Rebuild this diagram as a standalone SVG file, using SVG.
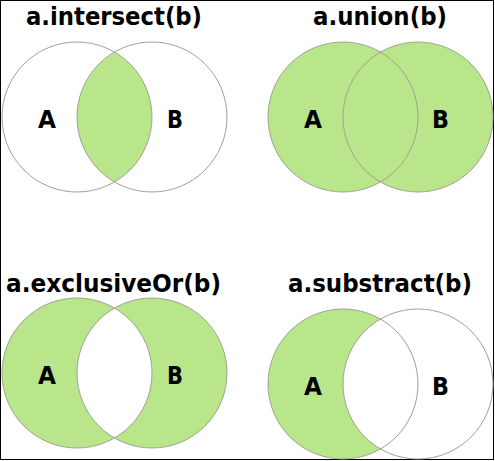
<svg xmlns="http://www.w3.org/2000/svg" width="495" height="461" viewBox="0 0 495 461">
<style>
.t{font-family:"DejaVu Sans","Liberation Sans",sans-serif;font-weight:bold;font-size:24px;fill:#000}
.l{font-family:"DejaVu Sans","Liberation Sans",sans-serif;font-weight:bold;font-size:25px;fill:#000}
.c{fill:none;stroke:#9da393;stroke-width:1}
.g{fill:#b9e68b}
.w{fill:#fff}
</style>
<defs>
<clipPath id="cB1"><circle cx="152" cy="117" r="75"/></clipPath>
<clipPath id="cB3"><circle cx="152" cy="373" r="75"/></clipPath>
<clipPath id="cB4"><circle cx="418" cy="384" r="75"/></clipPath>
</defs>
<rect x="0.5" y="0.5" width="493" height="459" fill="#fff" stroke="#000" stroke-width="1"/>
<g id="intersect">
<circle class="g" cx="77" cy="117" r="75" clip-path="url(#cB1)"/>
<circle class="c" cx="77" cy="117" r="75"/>
<circle class="c" cx="152" cy="117" r="75"/>
<text class="t" x="26" y="25" textLength="176" lengthAdjust="spacingAndGlyphs">a.intersect(b)</text>
<text class="l" x="38" y="128" textLength="18" lengthAdjust="spacingAndGlyphs">A</text>
<text class="l" x="167" y="128" textLength="16" lengthAdjust="spacingAndGlyphs">B</text>
</g>
<g id="union">
<circle class="g" cx="343" cy="117" r="75"/>
<circle class="g" cx="418" cy="117" r="75"/>
<circle class="c" cx="343" cy="117" r="75"/>
<circle class="c" cx="418" cy="117" r="75"/>
<text class="t" x="313" y="25" textLength="134" lengthAdjust="spacingAndGlyphs">a.union(b)</text>
<text class="l" x="304" y="128" textLength="18" lengthAdjust="spacingAndGlyphs">A</text>
<text class="l" x="432" y="128" textLength="17" lengthAdjust="spacingAndGlyphs">B</text>
</g>
<g id="exclusiveOr">
<circle class="g" cx="77" cy="373" r="75"/>
<circle class="g" cx="152" cy="373" r="75"/>
<circle class="w" cx="77" cy="373" r="75" clip-path="url(#cB3)"/>
<circle class="c" cx="77" cy="373" r="75"/>
<circle class="c" cx="152" cy="373" r="75"/>
<text class="t" x="6" y="292" textLength="215" lengthAdjust="spacingAndGlyphs">a.exclusiveOr(b)</text>
<text class="l" x="38" y="384" textLength="18" lengthAdjust="spacingAndGlyphs">A</text>
<text class="l" x="167" y="384" textLength="16" lengthAdjust="spacingAndGlyphs">B</text>
</g>
<g id="substract">
<circle class="g" cx="343" cy="384" r="75"/>
<circle class="w" cx="343" cy="384" r="75" clip-path="url(#cB4)"/>
<circle class="c" cx="343" cy="384" r="75"/>
<circle class="c" cx="418" cy="384" r="75"/>
<text class="t" x="288" y="292" textLength="184" lengthAdjust="spacingAndGlyphs">a.substract(b)</text>
<text class="l" x="304" y="395" textLength="18" lengthAdjust="spacingAndGlyphs">A</text>
<text class="l" x="432" y="395" textLength="17" lengthAdjust="spacingAndGlyphs">B</text>
</g>
<g id="connectors"/>
</svg>
